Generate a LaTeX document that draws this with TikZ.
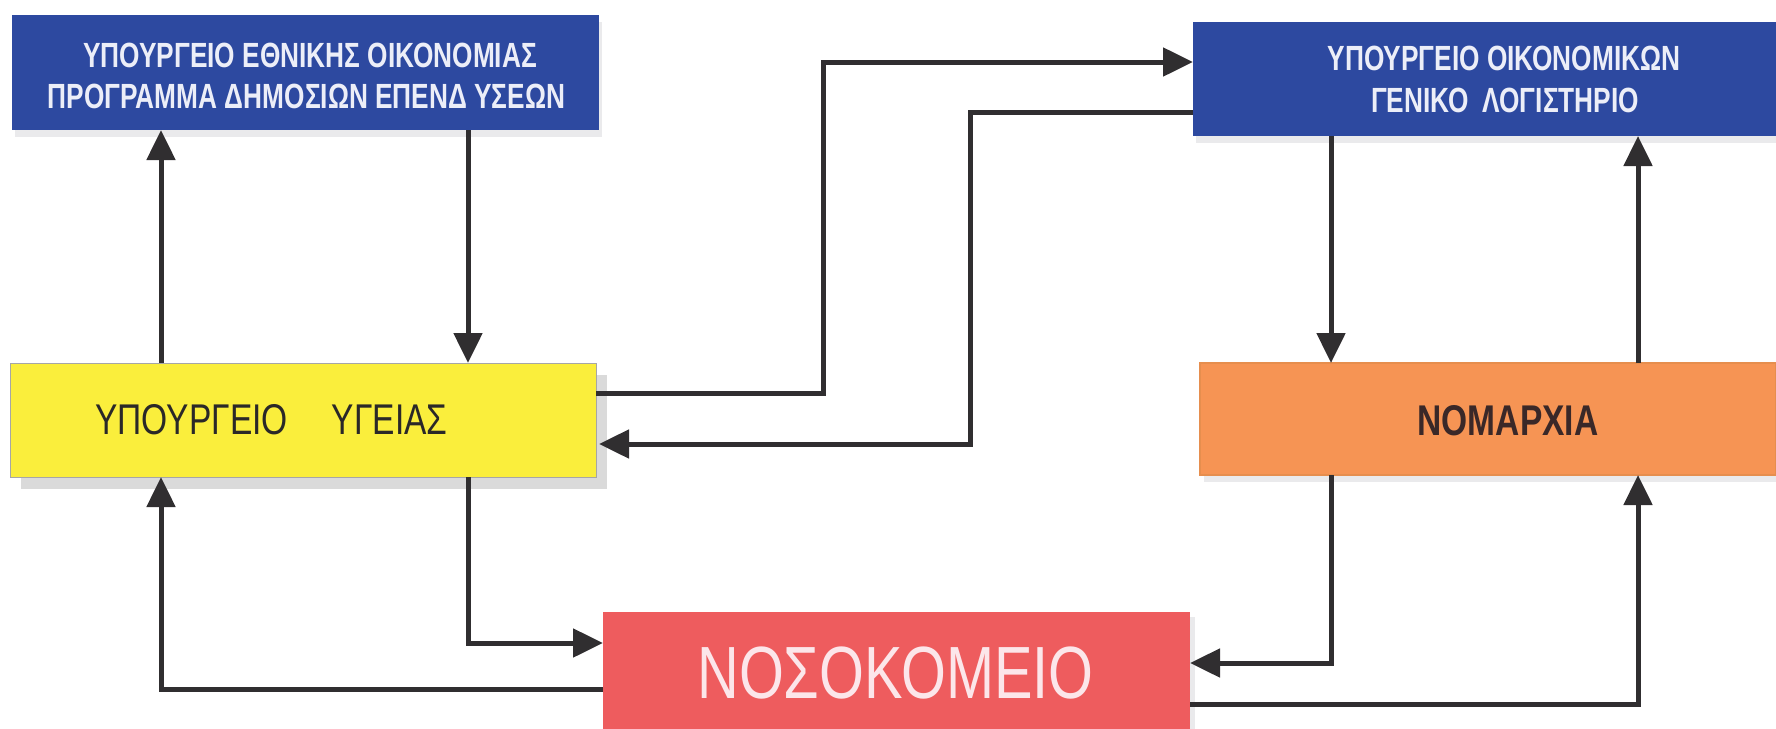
\documentclass[tikz,border=0pt]{standalone}
\usepackage{fontspec}
\newfontfamily\cf[FakeStretch=0.78]{Liberation Sans}
\newfontfamily\cfn[FakeStretch=0.75]{Liberation Sans}
\usetikzlibrary{arrows.meta,shadows}
\definecolor{boxblue}{RGB}{45,73,160}
\definecolor{boxyellow}{RGB}{250,238,60}
\definecolor{boxorange}{RGB}{246,148,84}
\definecolor{boxred}{RGB}{238,92,94}
\definecolor{linegray}{RGB}{48,46,48}
\definecolor{shadowgray}{RGB}{218,218,218}
\definecolor{lightshadow}{RGB}{234,234,236}
\definecolor{bluetext}{RGB}{236,238,248}
\definecolor{darktext}{RGB}{42,40,40}
\definecolor{nomtext}{RGB}{58,40,40}
\definecolor{redtext}{RGB}{252,230,234}
\begin{document}
\begin{tikzpicture}[x=1pt,y=-1pt,
  boxbase/.style={inner sep=0pt, outer sep=0pt},
  blueboxst/.style={boxbase, fill=boxblue, drop shadow={shadow xshift=3pt, shadow yshift=-7pt, fill=lightshadow, opacity=1}},
  yellowboxst/.style={boxbase, fill=boxyellow, draw=gray!70, line width=1pt, drop shadow={shadow xshift=11pt, shadow yshift=-12pt, fill=shadowgray, opacity=1}},
  orangeboxst/.style={boxbase, fill=boxorange, draw=boxorange!70!brown, line width=1.2pt, drop shadow={shadow xshift=4pt, shadow yshift=-7pt, fill=lightshadow, opacity=1}},
  redboxst/.style={boxbase, fill=boxred, drop shadow={shadow xshift=5pt, shadow yshift=-5pt, fill=lightshadow, opacity=1}},
  bluetxt/.style={inner sep=0pt, text=bluetext, font=\cfn\bfseries\fontsize{35}{40}\selectfont},
  yellowtxt/.style={inner sep=0pt, text=darktext, font=\cf\fontsize{43}{50}\selectfont},
  orangetxt/.style={inner sep=0pt, text=nomtext, font=\cf\bfseries\fontsize{43}{50}\selectfont},
  redtxt/.style={inner sep=0pt, text=redtext, font=\cf\fontsize{74}{80}\selectfont},
  conn/.style={draw=linegray, line width=5pt},
  arr/.style={conn, -{Triangle[length=30pt,width=28pt]}}
]
\useasboundingbox[fill=white] (0,0) rectangle (1776,728);

% boxes
\node[blueboxst, minimum width=587pt, minimum height=115pt] (mne) at (305.5,72.5) {};
\node[blueboxst, minimum width=583pt, minimum height=114pt] (moik) at (1484.5,79) {};
\node[yellowboxst, minimum width=586pt, minimum height=114pt] (ygeia) at (303,420) {};
\node[orangeboxst, minimum width=576pt, minimum height=112pt] (nom) at (1488,419) {};
\node[redboxst, minimum width=587pt, minimum height=118pt] (nos) at (896.5,671) {};

% texts
\node[bluetxt, anchor=base] (mneA) at (310,67) {ΥΠΟΥΡΓΕΙΟ ΕΘΝΙΚΗΣ ΟΙΚΟΝΟΜΙΑΣ};
\node[bluetxt, anchor=base] (mneB) at (306.5,108) {ΠΡΟΓΡΑΜΜΑ ΔΗΜΟΣΙΩΝ ΕΠΕΝΔ ΥΣΕΩΝ};
\node[bluetxt, anchor=base] (moikA) at (1504,70) {ΥΠΟΥΡΓΕΙΟ ΟΙΚΟΝΟΜΙΚΩΝ};
\node[bluetxt, anchor=base] (moikB) at (1505,112) {ΓΕΝΙΚΟ\hspace{14pt}ΛΟΓΙΣΤΗΡΙΟ};
\node[yellowtxt, anchor=base] (ygT) at (271.5,434) {ΥΠΟΥΡΓΕΙΟ\hspace{44pt}ΥΓΕΙΑΣ};
\node[orangetxt, anchor=base] (nomT) at (1508,435) {ΝΟΜΑΡΧΙΑ};
\node[redtxt, anchor=base] (nosT) at (895.5,698) {ΝΟΣΟΚΟΜΕΙΟ};

% connector guides
\coordinate (xa) at (161,0);
\coordinate (xb) at (468,0);
\coordinate (xc) at (823,0);
\coordinate (xd) at (970,0);
\coordinate (xe) at (1331,0);
\coordinate (xf) at (1638,0);
\coordinate (ya) at (0,62);
\coordinate (yb) at (0,112);
\coordinate (yc) at (0,393);
\coordinate (yd) at (0,444);
\coordinate (ye) at (0,643);
\coordinate (yf) at (0,689);
\coordinate (yi) at (0,663);
\coordinate (yh) at (0,704);

% connectors
\draw[arr] (ygeia.north -| xa) -- (mne.south -| xa);
\draw[arr] (mne.south -| xb) -- (ygeia.north -| xb);
\draw[arr] (ygeia.east |- yc) -| (xc |- ya) -- (moik.west |- ya);
\draw[arr] (moik.west |- yb) -| (xd |- yd) -- ([xshift=3pt]ygeia.east |- yd);
\draw[arr] (moik.south -| xe) -- (nom.north -| xe);
\draw[arr] (nom.north -| xf) -- (moik.south -| xf);
\draw[arr] (ygeia.south -| xb) |- (nos.west |- ye);
\draw[arr] (nos.west |- yf) -| (ygeia.south -| xa);
\draw[arr] (nom.south -| xe) |- (nos.east |- yi);
\draw[arr] (nos.east |- yh) -| (nom.south -| xf);
\end{tikzpicture}
\end{document}
